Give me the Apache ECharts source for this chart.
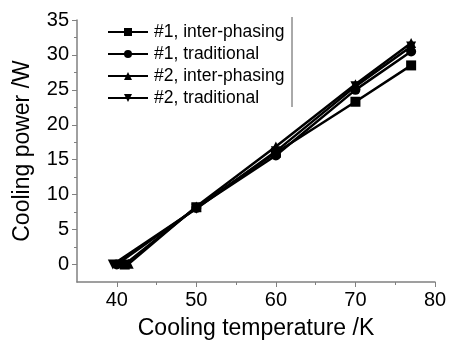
<!DOCTYPE html>
<html>
<head>
<meta charset="utf-8">
<script src="https://cdn.jsdelivr.net/npm/echarts@6/dist/echarts.min.js"></script>
<style>
  html, body { margin: 0; padding: 0; background: #fff; }
  #chart { width: 452px; height: 346px; }
</style>
</head>
<body>
<div id="chart"></div>
<script>
// data
const seriesNames = ['#1, inter-phasing', '#1, traditional', '#2, inter-phasing', '#2, traditional']
const xInter1 = [41, 50, 60, 70, 77]
const yInter1 = [0, 8.2, 16.0, 23.3, 28.5]
const xTrad1 = [40, 50, 60, 70, 77]
const yTrad1 = [0, 8.1, 15.6, 25.0, 30.5]
const xInter2 = [41.5, 50, 60, 70, 77]
const yInter2 = [0.1, 8.3, 16.9, 25.8, 31.7]
const xTrad2 = [39.5, 50, 60, 70, 77]
const yTrad2 = [0, 8.0, 16.2, 25.5, 31.2]
const xTicks = [40, 50, 60, 70, 80]
const xMinorTicks = [45, 55, 65, 75]
const yTicks = [0, 5, 10, 15, 20, 25, 30, 35]
const yMinorTicks = [2.5, 7.5, 12.5, 17.5, 22.5, 27.5, 32.5]

const symbols = ['rect', 'circle', 'triangle', 'triangle']
const rotates = [0, 0, 0, 180]
const xs = [xInter1, xTrad1, xInter2, xTrad2]
const ys = [yInter1, yTrad1, yInter2, yTrad2]

const font = 'Liberation Sans'
const axisGrey = '#808080'

const chart = echarts.init(document.getElementById('chart'))

const series = seriesNames.map((name, i) => ({
  name: name,
  type: 'line',
  data: xs[i].map((x, j) => [x, ys[i][j]]),
  symbol: symbols[i],
  symbolRotate: rotates[i],
  symbolSize: 10,
  lineStyle: { color: '#000', width: 2.5 },
  itemStyle: { color: '#000' }
}))

chart.setOption({
  animation: false,
  grid: { left: 77, right: 17, top: 20, bottom: 64 },
  legend: {
    orient: 'vertical',
    left: 102,
    top: 16,
    itemWidth: 40,
    itemHeight: 10,
    itemGap: 0,
    textStyle: { fontFamily: font, fontSize: 17.5, lineHeight: 22, color: '#000', padding: [0, 0, 0, 1] },
    data: seriesNames
  },
  xAxis: [{
    type: 'value',
    min: 35,
    max: 80,
    name: 'Cooling temperature /K',
    nameLocation: 'middle',
    nameGap: 35,
    nameTextStyle: { fontFamily: font, fontSize: 23, color: '#000' },
    splitLine: { show: false },
    axisLine: { onZero: false, lineStyle: { color: axisGrey, width: 1.5 } },
    axisTick: { customValues: xTicks, length: 5, lineStyle: { color: axisGrey } },
    axisLabel: { customValues: xTicks, fontFamily: font, fontSize: 20, color: '#000', margin: 8 }
  }, {
    type: 'value',
    min: 35,
    max: 80,
    position: 'bottom',
    axisLine: { show: false, onZero: false },
    splitLine: { show: false },
    axisTick: { customValues: xMinorTicks, length: 3, lineStyle: { color: axisGrey } },
    axisLabel: { show: false }
  }],
  yAxis: [{
    type: 'value',
    min: -2.5,
    max: 35,
    name: 'Cooling power /W',
    nameLocation: 'middle',
    nameGap: 43,
    nameTextStyle: { fontFamily: font, fontSize: 23, color: '#000' },
    splitLine: { show: false },
    axisLine: { onZero: false, lineStyle: { color: axisGrey, width: 1.5 } },
    axisTick: { customValues: yTicks, length: 5, lineStyle: { color: axisGrey } },
    axisLabel: { customValues: yTicks, fontFamily: font, fontSize: 20, color: '#000', margin: 8 }
  }, {
    type: 'value',
    min: -2.5,
    max: 35,
    position: 'left',
    axisLine: { show: false, onZero: false },
    splitLine: { show: false },
    axisTick: { customValues: yMinorTicks, length: 3, lineStyle: { color: axisGrey } },
    axisLabel: { show: false }
  }],
  graphic: [{
    type: 'line',
    shape: { x1: 292, y1: 17, x2: 292, y2: 107 },
    style: { stroke: '#555', lineWidth: 1 }
  }],
  series: series
})
</script>
</body>
</html>
